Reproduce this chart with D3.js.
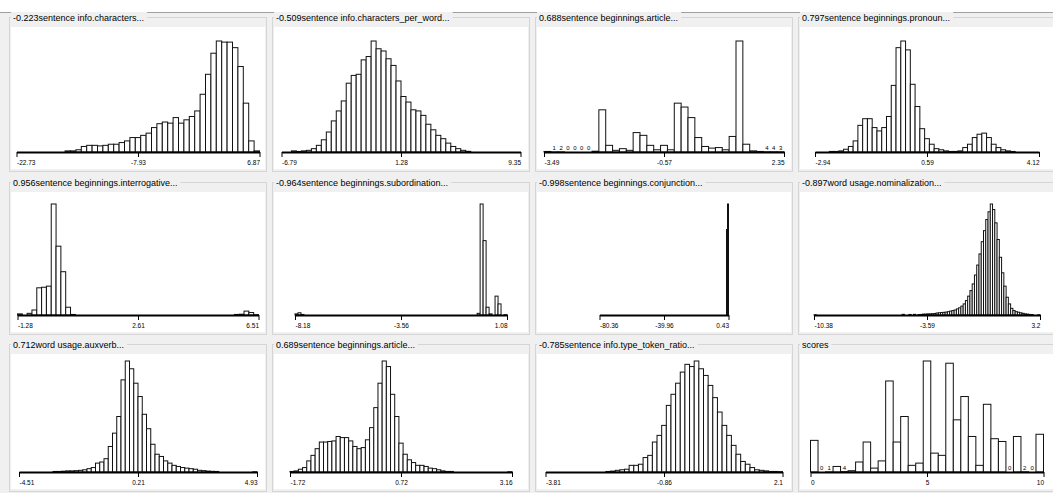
<!DOCTYPE html>
<html>
<head>
<meta charset="utf-8">
<script src="https://cdn.jsdelivr.net/npm/d3@7"></script>
<style>
  html, body { margin: 0; padding: 0; background: #f0f0f0; }
  svg { display: block; font-family: "Liberation Sans", Arial, sans-serif; }
</style>
</head>
<body>
<script>
var width = 1053,
    height = 493;

// panel titles, read left to right, top to bottom
const titles = [
    "-0.223sentence info.characters...",
    "-0.509sentence info.characters_per_word...",
    "0.688sentence beginnings.article...",
    "0.797sentence beginnings.pronoun...",
    "0.956sentence beginnings.interrogative...",
    "-0.964sentence beginnings.subordination...",
    "-0.998sentence beginnings.conjunction...",
    "-0.897word usage.nominalization...",
    "0.712word usage.auxverb...",
    "0.689sentence beginnings.article...",
    "-0.785sentence info.type_token_ratio...",
    "scores"
];

// min / middle / max labels under each histogram
const tickLabels = [
    ["-22.73", "-7.93", "6.87"],
    ["-6.79", "1.28", "9.35"],
    ["-3.49", "-0.57", "2.35"],
    ["-2.94", "0.59", "4.12"],
    ["-1.28", "2.61", "6.51"],
    ["-8.18", "-3.56", "1.08"],
    ["-80.36", "-39.96", "0.43"],
    ["-10.38", "-3.59", "3.2"],
    ["-4.51", "0.21", "4.93"],
    ["-1.72", "0.72", "3.16"],
    ["-3.81", "-0.86", "2.1"],
    ["0", "5", "10"]
];

// bin counts
const charactersCounts = [0,0,0,0,0,0,0,0,0,10,10,20,50,60,60,55,60,70,70,85,100,130,130,150,170,220,255,270,260,310,260,290,320,370,520,700,890,1000,990,990,940,770,440,100,10];
const charsPerWordCounts = [0,0,10,5,10,15,30,60,110,180,280,370,460,620,690,700,830,860,1000,930,910,840,780,640,500,450,380,370,330,250,200,150,120,80,50,30,15,6,0,0,0,0,0,0,0,0,0,0];
const articleCounts = [12,1,2,0,0,0,0,17,912,144,36,72,36,420,360,144,48,144,48,1056,972,744,312,120,84,96,48,336,2400,168,24,12,4,4,3];
const pronounCounts = [0,0,0,5,5,10,25,50,100,240,300,300,220,190,220,320,600,940,1000,920,610,410,210,120,70,30,20,10,5,5,10,40,70,130,160,170,130,70,40,20,10,5,0,0,0,0,0];
const interrogativeCounts = [10,0,15,45,245,250,260,1000,620,390,70,5,0,0,0,0,0,0,0,0,0,0,0,0,0,0,0,0,0,0,0,0,0,0,0,0,0,0,0,0,0,0,0,0,0,5,7,35,22,3];
const subordinationCounts = [10,20,5,0,0,0,0,0,0,0,0,0,0,0,0,0,0,0,0,0,0,0,0,0,0,0,0,0,0,0,0,0,0,0,0,0,0,0,0,0,0,0,0,0,0,0,0,0,0,0,0,0,0,0,0,0,0,0,0,0,0,15,1000,670,70,10,0,170,100,0,3];
const conjunctionCounts = [
    0,0,0,0,0,0,0,0,0,0,0,0,0,0,0,0,0,0,0,0,
    0,0,0,0,0,0,0,0,0,0,0,0,0,0,0,0,0,0,0,0,
    0,0,0,0,0,0,0,0,0,0,0,0,0,0,0,0,0,0,0,0,
    0,0,0,0,0,0,0,0,0,0,0,0,0,0,0,0,0,0,0,0,
    0,0,0,0,0,0,0,0,0,0,0,0,0,0,0,0,0,0,0,0,
    0,0,0,0,0,0,0,0,0,0,0,0,0,0,0,0,0,0,0,0,
    0,0,0,0,0,0,0,770,1000
];
const nominalizationCounts = [2,0,0,0,0,0,0,0,0,0,0,0,0,0,0,0,0,0,0,0,0,0,0,0,0,0,0,0,0,0,0,0,0,0,0,0,0,0,0,6,0,0,5,0,6,0,4,5,8,8,10,10,12,13,18,20,22,24,26,30,35,40,45,55,65,80,100,130,170,220,280,360,450,550,660,760,860,930,1000,950,830,680,520,380,260,160,100,60,40,30,25,20,15,10,8,5,4,0,0,2];
const auxverbCounts = [0,0,0,0,0,0,0,0,5,5,7,10,10,12,15,20,30,40,80,90,120,230,350,500,830,1000,930,800,680,520,390,250,160,140,100,80,60,50,40,35,30,25,15,12,8,6,5,0,0,0,0,0,0,0,0,2];
const article2Counts = [5,10,25,40,100,150,210,270,270,275,280,320,310,310,280,230,210,220,290,400,580,800,1000,950,700,500,260,160,110,85,60,60,50,35,30,20,10,5,5,0,0,0,0,0,0,0,0,0,0,0,0,0,2];
const typeTokenCounts = [0,0,0,0,0,0,0,0,0,0,0,0,0,5,8,15,20,25,60,60,70,130,150,270,330,420,600,700,800,900,970,950,1000,930,870,780,670,540,420,330,240,160,95,70,40,20,15,10,5,5,3];
const scoresCounts = [342,0,1,60,4,14,108,324,42,120,984,324,600,72,96,1200,204,180,1176,564,816,384,72,732,360,330,0,384,2,0,408];

const allCounts = [
    charactersCounts, charsPerWordCounts, articleCounts, pronounCounts,
    interrogativeCounts, subordinationCounts, conjunctionCounts, nominalizationCounts,
    auxverbCounts, article2Counts, typeTokenCounts, scoresCounts
];

// layout
var colX = [9, 272, 535, 798];
var rowT = [17, 182, 344];
var rowBase = [152, 315, 472];
var panelW = 258;
var barMaxH = 111;
var axisWidths = [243, 239, 240, 224, 241, 212, 129, 226, 238, 222, 237, 233];

var svg = d3.select("body").append("svg")
    .attr("width", width)
    .attr("height", height);

svg.append("rect").attr("width", width).attr("height", 12).attr("fill", "#fff");
svg.append("line")
    .attr("x1", 0).attr("x2", width)
    .attr("y1", 12.5).attr("y2", 12.5)
    .attr("stroke", "#a0a0a0");

titles.forEach(function (title, i) {
    var col = i % 4, row = Math.floor(i / 4);
    var x0 = colX[col], T = rowT[row], base = rowBase[row];
    var counts = allCounts[i];
    var ticks = tickLabels[i];
    var g = svg.append("g");

    // titled border
    g.append("rect")
        .attr("x", x0 + 0.5).attr("y", T + 0.5)
        .attr("width", panelW - 1).attr("height", Math.min(base + 19, 491) - T)
        .attr("fill", "none").attr("stroke", "#d5d5d5");

    // white plot area
    g.append("rect")
        .attr("x", x0 + 2).attr("y", T + 10)
        .attr("width", panelW - 4).attr("height", Math.min(base + 17, 489) - T - 10)
        .attr("fill", "#fff");

    var tBg = g.append("rect").attr("fill", "#f0f0f0");
    var t = g.append("text")
        .attr("x", x0 + 4).attr("y", T + 3.5)
        .attr("font-size", 9).attr("fill", "#000")
        .text(title);
    var tw = t.node().getComputedTextLength();
    tBg.attr("x", x0 + 2).attr("y", T - 5).attr("width", tw + 5).attr("height", 11);

    // scales
    var lo = +ticks[0], hi = +ticks[2];
    var axL = x0 + 2 + (panelW - 4 - axisWidths[i]) / 2;
    var x = d3.scaleLinear().domain([lo, hi]).range([axL, axL + axisWidths[i]]);
    var y = d3.scaleLinear().domain([0, d3.max(counts)]).range([base, base - barMaxH]);
    var bw = (hi - lo) / counts.length;

    var bins = counts.map(function (c, k) {
        return { c: c, x0: x(lo + k * bw), x1: x(lo + (k + 1) * bw) };
    });

    g.selectAll("rect.bar")
        .data(bins.filter(function (d) { return d.c > 0; }))
        .join("rect")
        .attr("class", "bar")
        .attr("x", function (d) { return d.x0; })
        .attr("y", function (d) { return y(d.c); })
        .attr("width", function (d) { return d.x1 - d.x0; })
        .attr("height", function (d) { return base - y(d.c); })
        .attr("fill", "#fff")
        .attr("stroke", "#111")
        .attr("stroke-width", 1);

    // counts above bars when the number fits in the bar
    bins.forEach(function (d) {
        var lab = g.append("text")
            .attr("x", (d.x0 + d.x1) / 2)
            .attr("y", y(d.c) - 2)
            .attr("text-anchor", "middle")
            .attr("font-size", 6)
            .attr("fill", "#000")
            .text(d.c);
        if (lab.node().getComputedTextLength() + 3 >= d.x1 - d.x0) lab.remove();
    });

    var axis = d3.axisBottom(x)
        .tickValues([lo, (lo + hi) / 2, hi])
        .tickFormat(function (d, k) { return ticks[k]; })
        .tickSize(5)
        .tickSizeOuter(0)
        .tickPadding(3);

    var ga = g.append("g")
        .attr("transform", "translate(0," + base + ")")
        .call(axis);
    ga.attr("font-family", null).attr("font-size", null);
    ga.select(".domain").attr("stroke", "#000").attr("stroke-width", 2);
    ga.selectAll(".tick line").attr("stroke", "#000");
    ga.selectAll(".tick text")
        .attr("fill", "#000")
        .attr("font-size", 6.5)
        .attr("text-anchor", function (d, k) { return ["start", "middle", "end"][k]; });
});
</script>
</body>
</html>
